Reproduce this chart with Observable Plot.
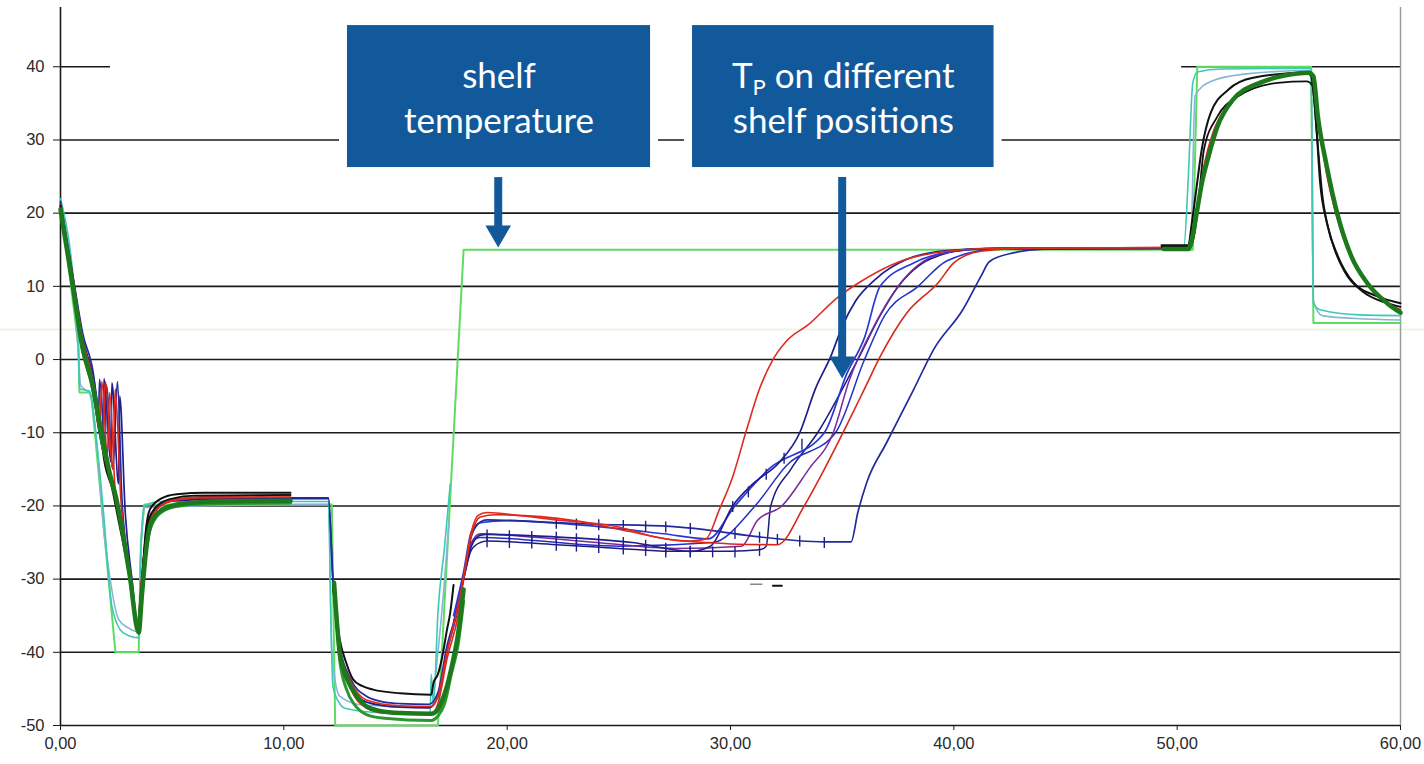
<!DOCTYPE html>
<html>
<head>
<meta charset="utf-8">
<script src="https://cdn.jsdelivr.net/npm/d3@7"></script>
<script src="https://cdn.jsdelivr.net/npm/@observablehq/plot@0.6"></script>
<style>
  html, body { margin: 0; padding: 0; background: #fff; }
  #chart { position: absolute; left: 0; top: 0; }
</style>
</head>
<body>
<div id="chart"></div>
<script>
// ---------- data (x = time, y = temperature °C); null = gap in record ----------
const xTicks = [0, 10, 20, 30, 40, 50, 60];
const yTicks = [-50, -40, -30, -20, -10, 0, 10, 20, 30, 40];

const shelfTemp = [[0,21.8],[0.8,1.8],[0.85,-4.5],[1.3,-4.5],[1.4,-5.5],[2.46,-40],[3.5,-40],[3.6,-25],[3.75,-19.8],[12.15,-19.8],[12.3,-50],[16.9,-50],[18.05,15],[50.7,15],[50.9,40],[56.0,40],[56.1,5],[60,5]];

const cyan1 = [[0,22],[0.8,2],[0.85,-4],[1.3,-4.3],[1.5,-8],[1.9,-20],[2.3,-33.7],[2.8,-37.3],[3.5,-38],[3.6,-26],[3.75,-20],[4.5,-19.4],[12.0,-19.4],[12.1,-34.6],[12.2,-44.7],[12.5,-47],[12.7,-47.6],[14,-48.2],[16.55,-48.5],[16.6,-43],[16.7,-47],[16.9,-34.6],[17.2,-25.5],[17.45,-17],null,[49.4,15.2],[50.3,15.4],[50.5,25],[50.7,37.8],[50.9,39.3],[52,39.7],[56.0,39.8],[56.1,7.7],[56.4,6.8],[58.2,6.1],[60,6.0]];

const cyan2 = [[0,21],[0.8,1],[0.9,-3.5],[1.35,-4.8],[2.0,-25],[2.6,-35.5],[3.0,-36.6],[3.5,-37.2],[3.6,-26],[3.8,-20.2],[12.0,-19.8],[12.15,-40],[12.5,-46],[13.5,-47.2],[16.6,-47.5],[16.9,-40],[17.2,-30],[17.4,-22],null,[49.4,15],[50.6,15.2],[50.8,36],[51.5,38],[53,39],[56,39.5],[56.1,8],[56.5,6],[58,5.6],[60,5.4]];

const black1 = [[0,21],[0.5,11.5],[1.0,1.5],[1.4,-3],[1.7,-8],[2.0,-14.5],[2.3,-17.5],[2.6,-22],[2.9,-26.5],[3.2,-31.5],[3.5,-37.2],[3.65,-31],[3.8,-24],[4.0,-20.5],[4.5,-19],[5.2,-18.4],[6.5,-18.2],[10.3,-18.2],null,[12.2,-31],[12.5,-38.2],[12.8,-41.5],[13.1,-43.7],[13.5,-44.6],[14,-45.1],[15.2,-45.6],[16.6,-45.8],[16.7,-44.2],[16.9,-43],[17.1,-40.5],[17.3,-37],[17.45,-34.6],[17.6,-30.8],null,[49.3,15.6],[50.5,15.6],[50.65,18.5],[50.8,21.9],[51.1,28.7],[51.5,33.7],[52.3,36.9],[53.4,38.5],[55.8,39.2],[56.0,38.7],[56.2,33.2],[56.4,24.2],[56.7,18.7],[57.2,14.1],[57.9,10.5],[59,8.6],[60,7.7]];

const black2 = [[0,20.8],[0.5,11],[1,1],[1.4,-3.5],[1.8,-11],[2.2,-16],[2.5,-19],[2.8,-24],[3.1,-29.5],[3.45,-36.5],[3.6,-32],[3.75,-26],[3.95,-21.8],[4.4,-19.8],[5,-19],[6,-18.6],[10.3,-18.5],null,[49.3,15.4],[50.6,15.4],[50.8,17.6],[51.0,23],[51.2,28.7],[51.8,33.2],[52.7,35.9],[54.5,37.8],[55.8,38.0],[56.05,37.5],[56.25,31],[56.5,22.5],[56.9,16.5],[57.5,12],[58.3,9.3],[59.3,7.8],[60,7.2]];

const green1 = [[0,20.5],[0.5,11],[1,1.5],[1.4,-3],[1.9,-11],[2.2,-15.5],[2.5,-19],[2.8,-24],[3.1,-29.5],[3.5,-37.3],[3.65,-32],[3.8,-27],[3.95,-23.5],[4.2,-21.5],[4.7,-20.3],[5.5,-19.7],[7,-19.4],[10.3,-19.3],null,[12.25,-30.5],[12.5,-40],[12.75,-43],[13.0,-44.7],[13.4,-46.5],[13.7,-47.4],[14.3,-48],[15.2,-48.3],[16.6,-48.4],[16.9,-47.8],[17.1,-46.5],[17.3,-44.7],[17.55,-41.5],[17.8,-37.5],[18.05,-31.4],null,[49.4,15.1],[50.5,15.1],[50.7,17],[50.9,20.5],[51.1,24],[51.4,27.7],[51.8,31.8],[52.5,35.5],[53.7,37.8],[54.8,38.8],[55.9,39.2],[56.1,38.7],[56.3,33.2],[56.7,26.4],[57.2,19.6],[57.8,14.1],[58.5,10.5],[59.4,7.7],[60,6.4]];

const green2 = [[0,20.5],[0.5,11],[1.0,1],[1.4,-3.5],[1.9,-12],[2.3,-17],[2.6,-20.5],[3,-27.5],[3.45,-36],[3.6,-33],[3.75,-28],[3.95,-24],[4.3,-21.5],[5,-20.2],[6,-19.8],[10.3,-19.6],null,[12.3,-32],[12.5,-41],[12.8,-45],[13.2,-47.3],[13.7,-48.5],[14.5,-49],[16.6,-49.3],[16.9,-48.7],[17.2,-47],[17.5,-43],[17.8,-39],[18.05,-33]];

const red1 = [[0,21],[0.5,12],[1.0,2.5],[1.45,-3],[1.75,-10],[1.85,-3],[2.1,-13],[2.2,-4.5],[2.45,-18],[2.8,-24],[3.1,-29],[3.45,-36.5],[3.6,-31],[3.8,-25],[4.0,-22],[4.5,-20],[5.3,-19],[7,-18.7],[10.3,-18.6],null,[12.2,-31],[12.5,-39.5],[13.0,-44],[13.7,-46.5],[15.2,-47.3],[16.6,-47.4],[16.9,-46],[17.3,-40],[17.8,-33.7],[18.05,-29.6],[18.4,-23.5],[18.7,-21.3],[19.1,-20.9],[20.5,-21.3],[22.2,-21.9],[24.9,-22.8],[26.6,-24.2],[28.2,-24.8],[28.9,-24.5],[29.5,-20.5],[30.1,-16],[30.7,-9.8],[31.3,-4],[31.9,0],[32.5,2.5],[33.5,4.8],[34.8,8.5],[35.8,10.6],[37.5,13.3],[39.7,14.8],[42,15.2],[49.4,15.3]];

const red2 = [[0,21.2],[0.5,12],[1.0,2.7],[1.45,-2.8],[1.9,-10],[2.0,-3],[2.35,-15],[2.45,-4],[2.7,-19],[3.0,-27],[3.45,-36.8],[3.6,-31],[3.8,-25],[4.1,-21.5],[4.7,-19.6],[6,-18.9],[10.3,-18.8],null,[12.25,-31],[12.5,-40],[13,-45],[13.7,-47.6],[14.5,-48.3],[16.6,-48.5],[16.9,-47],[17.3,-41],[17.8,-35],[18.05,-30],[18.4,-24],[18.8,-21.5],[19.5,-21.2],[23,-22],[25.5,-23.5],[27.5,-24.7],[29,-25],[30,-25.2],[32.1,-25.3],[33.3,-20],[34.2,-15],[35.2,-9],[36,-4],[36.7,0.4],[37.9,6.4],[39.3,10.5],[40,13.2],[41.2,14.8],[43,15.2],[49.4,15.3],null,[50.5,15.3],[50.85,20],[51.2,26.5],[51.6,31],[52.2,34.5],[53.2,37.3],[54.5,38.6],[55.9,39.3],[56.1,38.8],[56.3,34],[56.6,27],[57.1,20],[57.7,14.5],[58.4,10.8],[59.3,8],[60,6.8]];

const blue1 = [[0,21.6],[0.5,12.5],[1.0,3.5],[1.5,-2.5],[1.7,-8],[1.75,-2.7],[2.0,-12],[2.05,-3.5],[2.35,-15],[2.55,-3],[2.75,-19],[3.1,-29],[3.5,-36.5],[3.65,-30],[3.85,-24],[4.1,-21],[4.7,-19.5],[5.5,-19],[8,-18.9],[12.0,-18.9],[12.2,-30],[12.5,-39.2],[13,-43.7],[13.7,-46],[14.5,-46.8],[15.2,-47],[16.5,-47.1],[16.9,-45.5],[17.3,-39.2],[17.8,-33.7],[18.05,-29.6],[18.4,-24.1],[18.8,-22.2],[19.1,-21.9],[21.5,-22.2],[23.9,-22.5],[27.3,-22.8],[29,-23.3],[31.2,-24.2],[34.2,-24.9],[35.4,-24.9],[35.7,-20.9],[36.1,-16.8],[37,-11.3],[38.2,-4.1],[39.1,1.4],[40.4,6.8],[41.2,11.3],[41.6,13.4],[42.7,14.6],[44,15.1],[49.4,15.2]];

const blue2 = [[0,21.3],[0.5,12.2],[1.0,3],[1.5,-2.8],[1.9,-10],[1.95,-2.6],[2.25,-14],[2.3,-3.2],[2.6,-17],[2.65,-5],[2.9,-21],[3.2,-30],[3.5,-37],[3.65,-31],[3.9,-23.5],[4.3,-20.3],[5,-19.3],[8,-19],[12.0,-19],[12.2,-30.5],[12.5,-39.5],[13.0,-44.5],[13.7,-46.8],[15.2,-47.5],[16.5,-47.6],[16.9,-46],[17.3,-40],[17.8,-34],[18.05,-30],[18.4,-25.5],[18.8,-24],[19.1,-23.9],[22,-24.2],[25.6,-25],[28.2,-26.2],[29.1,-25.5],[30.1,-20],[31,-17],[32.2,-14],[33.1,-10],[33.8,-4],[34.5,0.5],[35.0,4.5],[35.6,8],[36.5,11],[37.9,13.7],[39.7,14.9],[42,15.2],[49.4,15.2]];

const blue3 = [[17.6,-36],[18.05,-30],[18.4,-26],[18.8,-25],[19.1,-24.8],[22.2,-25.3],[25,-25.8],[27.3,-26.2],[30,-26.2],[31.3,-26],[31.6,-25.5],[31.8,-20],[32.7,-15],[33.9,-10],[35.7,0],[36.7,6],[37.4,9.5],[39,13.8],[41,15.1],[49.4,15.2]];

const blue4 = [[17.6,-35],[18.05,-29],[18.4,-23.5],[18.8,-22.3],[20,-22],[24,-22.8],[27,-23.8],[29,-24.5],[30.2,-20],[31.7,-15],[34.2,-10],[35.2,-2],[36,3],[36.7,10],[38.2,13.2],[40,14.8],[42,15.2],[49.4,15.2]];

const blue5 = [[17.6,-36],[18.05,-30],[18.4,-25],[18.8,-24.3],[25,-25.5],[29.2,-25],[31.1,-20],[32.5,-14.5],[34.7,-10],[36,0],[36.9,6],[38.4,10],[39.7,13.5],[42,15.1],[49.4,15.2]];

const purple1 = [[17.6,-36],[18.05,-30],[18.4,-25],[18.8,-23.8],[20,-24],[24,-25],[27.5,-25.8],[30.5,-25.5],[31.2,-22],[32.3,-20],[33.5,-15],[34.6,-10],[35.3,-3],[36.5,5],[37.5,10],[39.5,14.5],[42,15.2],[49.4,15.2]];

// small logging ticks on the navy traces during primary drying
const navyTicks = [[19.1,-23.9],[20.1,-24.0],[21.1,-24.1],[22.2,-24.2],[23.1,-24.4],[24.1,-24.6],[25.2,-24.9],[26.2,-25.3],[27.1,-25.7],[28.2,-26.1],
  [19.1,-24.8],[20.1,-24.9],[21.1,-25.0],[22.2,-25.3],[23.1,-25.4],[24.1,-25.6],[25.2,-25.8],[26.2,-26.0],[27.1,-26.2],[28.2,-26.2],[29.2,-26.2],[30.2,-26.2],[31.3,-26.0],
  [22.2,-22.3],[23.1,-22.4],[24.1,-22.5],[25.2,-22.6],[26.2,-22.7],[27.1,-22.8],[28.2,-23.0],[30.2,-23.7],[31.3,-24.2],[32.1,-24.5],[33.1,-24.7],[34.2,-24.9],
  [30.1,-20.0],[30.8,-18.0],[31.6,-15.6],[32.4,-13.4],[33.2,-11.5]];

const greyDash = [[30.9,-30.7],[31.4,-30.7]];
const blackDash = [[31.9,-30.9],[32.3,-30.9]];

// annotation boxes (data coordinates) and their labels
const boxes = [
  {x1: 12.85, x2: 26.42, y1: 26.23, y2: 45.63, line1: "shelf", line2: "temperature", arrowX: 19.6, arrowTip: 15.4},
  {x1: 28.30, x2: 41.80, y1: 26.23, y2: 45.63, line1: "TP on different", line2: "shelf positions", arrowX: 35.0, arrowTip: -2.5}
];

// ---------- helpers ----------
const rows = arr => arr.map(p => p ? {x: p[0], y: p[1]} : {x: NaN, y: NaN});
const ln = (arr, stroke, strokeWidth, curve = "monotone-x") =>
  Plot.line(rows(arr), {x: "x", y: "y", stroke, strokeWidth, strokeLinejoin: "round", curve});

const BOX = "#12599b";
const grid = yTicks.filter(v => v !== 40);
const grid40 = [{y: 40, x1: 0, x2: 2.24}, {y: 40, x1: 50.2, x2: 60}];
const centers = boxes.map(b => ({...b, cx: (b.x1 + b.x2) / 2}));

const chart = Plot.plot({
  width: 1424,
  height: 764,
  marginLeft: 60,
  marginRight: 24,
  marginTop: 7,
  marginBottom: 39,
  x: {domain: [0, 60]},
  y: {domain: [-50, 48.1]},
  style: {background: "white", fontFamily: "'Liberation Sans', Arial, sans-serif", color: "#2a2a2a"},
  marks: [
    Plot.ruleY([4.1], {stroke: "#eaf6e2", strokeWidth: 2, insetLeft: -60, insetRight: -24}),
    Plot.ruleY(grid, {stroke: "#1a1a1a", strokeWidth: 1.6}),
    Plot.ruleY(grid40, {y: "y", x1: "x1", x2: "x2", stroke: "#1a1a1a", strokeWidth: 1.6}),
    Plot.ruleX([0], {y1: -50, y2: 48.1, stroke: "#1a1a1a", strokeWidth: 1.6}),
    Plot.ruleX([60], {y1: -50, y2: 48.1, stroke: "#9a9a9a", strokeWidth: 1.5}),
    Plot.axisY(yTicks, {tickSize: 7, tickPadding: 9, fontSize: 16.5, tickFormat: d => String(d), label: null, stroke: "#1a1a1a"}),
    Plot.axisX(xTicks, {tickSize: 5, tickPadding: 7, fontSize: 16.5, tickFormat: d => d.toFixed(2).replace(".", ","), label: null, stroke: "#1a1a1a"}),
    ln(shelfTemp, "#5fdc5f", 2, "linear"),
    ln(cyan2, "#86b6d6", 1.6),
    ln(cyan1, "#3ec8b6", 1.6),
    ln(blue3, "#1c1c80", 1.5),
    ln(blue5, "#2430c8", 1.5),
    ln(purple1, "#7a2a9c", 1.5),
    ln(blue4, "#2a36d8", 1.7),
    ln(blue2, "#1e1e8c", 1.7),
    ln(blue1, "#222a9e", 1.7),
    Plot.ruleX(navyTicks, {x: d => d[0], y1: d => d[1] - 0.9, y2: d => d[1] + 0.6, stroke: "#1e1e8c", strokeWidth: 1.4}),
    ln(red2, "#d8281c", 1.6),
    ln(red1, "#e02a1e", 1.6),
    ln(black2, "#111", 1.8),
    ln(black1, "#111", 2),
    ln(green2, "#2e962e", 3),
    ln(green1, "#1c7a1c", 4.5),
    ln(greyDash, "#888", 1.5, "linear"),
    ln(blackDash, "#111", 2, "linear"),
    // annotations
    Plot.rect(boxes, {x1: "x1", x2: "x2", y1: "y1", y2: "y2", fill: "white", inset: -8}),
    Plot.rect(boxes, {x1: "x1", x2: "x2", y1: "y1", y2: "y2", fill: BOX}),
    Plot.text(centers, {x: "cx", y: 37.16, text: "line1", fill: "white", fontSize: 35, lineAnchor: "bottom", fontFamily: "Lato, 'Open Sans', sans-serif"}),
    Plot.text(centers, {x: "cx", y: 31.0, text: "line2", fill: "white", fontSize: 35, lineAnchor: "bottom", fontFamily: "Lato, 'Open Sans', sans-serif"}),
    Plot.ruleX(centers, {x: "arrowX", y1: 24.86, y2: d => d.arrowTip + 2.2, stroke: BOX, strokeWidth: 8}),
    Plot.dot(centers, {x: "arrowX", y: "arrowTip", symbol: "triangle", rotate: 180, r: 9.5, fill: BOX, stroke: "none", dy: -14})
  ]
});

document.getElementById("chart").appendChild(chart);

// subscript P in "TP on different"
d3.select(chart).selectAll("text").each(function () {
  if (this.textContent === "TP on different") {
    const t = d3.select(this);
    t.text(null);
    t.append("tspan").text("T");
    t.append("tspan").attr("font-size", 22).attr("dy", 7).text("P");
    t.append("tspan").attr("dy", -7).text(" on different");
  }
});
</script>
</body>
</html>
